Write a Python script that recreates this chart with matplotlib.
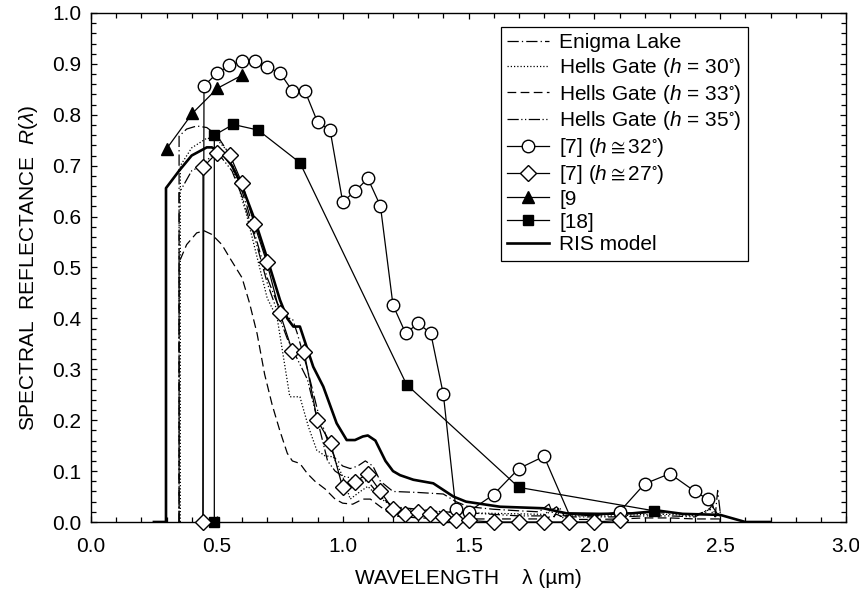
import matplotlib
matplotlib.use("Agg")
import matplotlib.pyplot as plt
from matplotlib.ticker import MultipleLocator

plt.rcParams['font.family'] = ['Liberation Sans', 'DejaVu Sans']
plt.rcParams['mathtext.fontset'] = 'custom'
plt.rcParams['mathtext.rm'] = 'Liberation Sans'
plt.rcParams['mathtext.it'] = 'Liberation Sans:italic'
plt.rcParams['mathtext.fallback'] = 'stixsans'

# ---------------- data ----------------
enigma_x = [0.35, 0.35, 0.38, 0.42, 0.46, 0.50, 0.54, 0.58, 0.62, 0.66, 0.70, 0.74, 0.78, 0.80,
            0.82, 0.86, 0.90, 0.94, 0.97, 1.00, 1.03, 1.06, 1.09, 1.12, 1.15, 1.20, 1.30, 1.40,
            1.45, 1.50, 1.60, 1.70, 1.78, 1.82, 1.84, 1.86, 1.88, 1.92, 2.00, 2.10, 2.20, 2.30,
            2.40, 2.45, 2.47, 2.48, 2.49, 2.50, 2.50]
enigma_y = [0.0, 0.758, 0.772, 0.778, 0.775, 0.76, 0.73, 0.68, 0.62, 0.55, 0.48, 0.43, 0.40, 0.40,
            0.37, 0.30, 0.22, 0.16, 0.125, 0.11, 0.105, 0.11, 0.12, 0.11, 0.08, 0.06, 0.058, 0.055,
            0.04, 0.03, 0.025, 0.022, 0.02, 0.035, 0.01, 0.03, 0.012, 0.015, 0.015, 0.015, 0.018, 0.018,
            0.015, 0.02, 0.035, 0.01, 0.062, 0.02, 0.0]

hg30_x = [0.355, 0.355, 0.40, 0.46, 0.50, 0.54, 0.58, 0.62, 0.66, 0.70, 0.74, 0.79, 0.83, 0.864,
          0.897, 0.93, 0.963, 1.00, 1.03, 1.07, 1.10, 1.14, 1.20, 1.30, 1.40, 1.50, 1.60, 1.70,
          1.80, 1.84, 1.87, 1.90, 2.00, 2.10, 2.20, 2.30, 2.40, 2.46, 2.48, 2.50, 2.50]
hg30_y = [0.0, 0.70, 0.735, 0.754, 0.752, 0.73, 0.67, 0.60, 0.52, 0.44, 0.40, 0.246, 0.246, 0.187,
          0.141, 0.13, 0.128, 0.09, 0.045, 0.06, 0.07, 0.05, 0.03, 0.022, 0.02, 0.018, 0.017, 0.016,
          0.015, 0.028, 0.008, 0.012, 0.012, 0.012, 0.015, 0.015, 0.012, 0.025, 0.01, 0.02, 0.0]

hg33_x = [0.35, 0.35, 0.38, 0.42, 0.45, 0.48, 0.52, 0.55, 0.60, 0.63, 0.66, 0.69, 0.72, 0.75,
          0.78, 0.80, 0.83, 0.86, 0.89, 0.93, 0.97, 1.00, 1.04, 1.08, 1.11, 1.15, 1.20, 1.30,
          1.40, 1.50, 1.60, 1.70, 1.80, 1.85, 1.90, 2.00, 2.10, 2.20, 2.30, 2.40, 2.50, 2.50]
hg33_y = [0.0, 0.51, 0.545, 0.568, 0.572, 0.565, 0.545, 0.52, 0.48, 0.43, 0.37, 0.29, 0.23, 0.18,
          0.135, 0.12, 0.115, 0.095, 0.08, 0.065, 0.045, 0.037, 0.035, 0.045, 0.045, 0.03, 0.012, 0.008,
          0.007, 0.006, 0.006, 0.006, 0.006, 0.015, 0.005, 0.005, 0.006, 0.008, 0.008, 0.006, 0.006, 0.0]

hg35_x = [0.35, 0.35, 0.40, 0.44, 0.48, 0.52, 0.56, 0.60, 0.65, 0.70, 0.75, 0.78, 0.82, 0.86,
          0.90, 0.94, 0.97, 1.00, 1.05, 1.10, 1.15, 1.20, 1.30, 1.40, 1.50, 1.60, 1.70, 1.80,
          1.85, 1.88, 1.90, 2.00, 2.10, 2.20, 2.30, 2.40, 2.47, 2.49, 2.50, 2.50]
hg35_y = [0.0, 0.646, 0.69, 0.70, 0.72, 0.715, 0.69, 0.64, 0.56, 0.47, 0.40, 0.36, 0.32, 0.28,
          0.20, 0.12, 0.10, 0.09, 0.085, 0.08, 0.05, 0.03, 0.025, 0.02, 0.018, 0.015, 0.012, 0.012,
          0.03, 0.01, 0.01, 0.01, 0.01, 0.012, 0.012, 0.01, 0.03, 0.015, 0.015, 0.0]

ref7a_x = [0.445, 0.449, 0.502, 0.55, 0.60, 0.65, 0.70, 0.75, 0.80, 0.85, 0.90, 0.95, 1.00, 1.05,
           1.10, 1.15, 1.20, 1.25, 1.30, 1.35, 1.40, 1.45, 1.50, 1.60, 1.70, 1.80, 1.90, 2.00,
           2.10, 2.20, 2.30, 2.40, 2.45]
ref7a_y = [0.0, 0.857, 0.882, 0.897, 0.906, 0.906, 0.893, 0.883, 0.847, 0.847, 0.786, 0.77, 0.629, 0.65,
           0.675, 0.621, 0.426, 0.371, 0.39, 0.371, 0.251, 0.025, 0.02, 0.054, 0.105, 0.129, 0.015, 0.012,
           0.02, 0.075, 0.095, 0.06, 0.045]
ref7a_marks = [i for i in range(len(ref7a_x)) if i not in (0, 26, 27)]

ref7b_x = [0.445, 0.445, 0.50, 0.552, 0.60, 0.649, 0.698, 0.751, 0.80, 0.847, 0.899, 0.952, 1.00, 1.049,
           1.10, 1.15, 1.20, 1.248, 1.30, 1.349, 1.40, 1.45, 1.50, 1.60, 1.70, 1.80, 1.90, 2.00, 2.10]
ref7b_y = [0.0, 0.697, 0.725, 0.721, 0.666, 0.585, 0.511, 0.41, 0.336, 0.334, 0.20, 0.155, 0.068, 0.079,
           0.095, 0.06, 0.025, 0.016, 0.02, 0.016, 0.01, 0.004, 0.003, 0.0, 0.0, 0.0, 0.0, 0.0, 0.003]

ref9_x = [0.30, 0.403, 0.502, 0.601]
ref9_y = [0.733, 0.803, 0.852, 0.878]

ref18_x = [0.49, 0.49, 0.565, 0.664, 0.83, 1.254, 1.70, 2.237]
ref18_y = [0.0, 0.76, 0.781, 0.770, 0.706, 0.27, 0.068, 0.022]

ris_x = [0.25, 0.298, 0.298, 0.35, 0.40, 0.46, 0.48, 0.52, 0.56, 0.60, 0.651, 0.698, 0.751, 0.78,
         0.804, 0.83, 0.883, 0.923, 0.976, 1.016, 1.049, 1.08, 1.10, 1.13, 1.17, 1.20, 1.228, 1.281,
         1.36, 1.44, 1.49, 1.625, 1.797, 1.89, 2.02, 2.15, 2.26, 2.35, 2.50, 2.60, 2.70]
ris_y = [0.0, 0.0, 0.656, 0.69, 0.72, 0.736, 0.736, 0.725, 0.70, 0.66, 0.593, 0.521, 0.436, 0.40,
         0.384, 0.384, 0.305, 0.266, 0.194, 0.161, 0.161, 0.168, 0.17, 0.16, 0.12, 0.10, 0.092, 0.083,
         0.076, 0.05, 0.04, 0.03, 0.027, 0.017, 0.016, 0.017, 0.022, 0.016, 0.014, 0.0, 0.0]

labels = ["Enigma Lake",
          r"Hells Gate ($h$ = 30$^{\circ}$)",
          r"Hells Gate ($h$ = 33$^{\circ}$)",
          r"Hells Gate ($h$ = 35$^{\circ}$)",
          r"[7] ($h \cong 32^{\circ}$)",
          r"[7] ($h \cong 27^{\circ}$)",
          "[9",
          "[18]",
          "RIS model"]

# ---------------- figure ----------------
fig = plt.figure(figsize=(8.59, 5.97), dpi=100)
ax = fig.add_axes([91/859, 1-522/597, (846-91)/859, (522-13)/597])

lw = 0.9
ax.plot(enigma_x, enigma_y, color='k', lw=lw, ls=(0, (9, 2.5, 1, 2.5)), label=labels[0])
ax.plot(hg30_x, hg30_y, color='k', lw=lw, ls=(0, (1, 1.6)), label=labels[1])
ax.plot(hg33_x, hg33_y, color='k', lw=lw, ls=(0, (7, 3.5)), label=labels[2])
ax.plot(hg35_x, hg35_y, color='k', lw=lw, ls=(0, (9, 2, 1, 2, 1, 2)), label=labels[3])
ax.plot(ref7a_x, ref7a_y, color='k', lw=lw, marker='o', ms=9, mfc='white', mec='k', mew=1.0,
        markevery=ref7a_marks, label=labels[4], clip_on=False, zorder=4)
ax.plot(ref7b_x, ref7b_y, color='k', lw=lw, marker='D', ms=8, mfc='white', mec='k', mew=1.0,
        label=labels[5], clip_on=False, zorder=5)
ax.plot(ref9_x, ref9_y, color='k', lw=lw, marker='^', ms=8.5, mfc='k', mec='k',
        label=labels[6], zorder=4)
ax.plot(ref18_x, ref18_y, color='k', lw=lw, marker='s', ms=7.5, mfc='k', mec='k',
        label=labels[7], clip_on=False, zorder=4)
ax.plot(ris_x, ris_y, color='k', lw=1.9, label=labels[8], zorder=3)

ax.set_xlim(0, 3.0)
ax.set_ylim(0, 1.0)
ax.xaxis.set_major_locator(MultipleLocator(0.5))
ax.xaxis.set_minor_locator(MultipleLocator(0.1))
ax.yaxis.set_major_locator(MultipleLocator(0.1))
ax.yaxis.set_minor_locator(MultipleLocator(0.02))
ax.xaxis.set_major_formatter(plt.FormatStrFormatter('%.1f'))
ax.yaxis.set_major_formatter(plt.FormatStrFormatter('%.1f'))
ax.tick_params(which='both', direction='in', top=True, right=True, width=0.9)
ax.tick_params(which='major', length=4.5, labelsize=15)
ax.tick_params(axis='x', which='major', pad=11)
ax.tick_params(axis='y', which='major', pad=7)
ax.tick_params(which='minor', length=3.5)
for s in ax.spines.values():
    s.set_linewidth(1.0)

ax.set_xlabel(r"WAVELENGTH    λ (µm)", fontsize=15, labelpad=9)
ax.set_ylabel(r"SPECTRAL  REFLECTANCE  $R(\lambda)$", fontsize=15, labelpad=9)

leg = ax.legend(loc='upper left', bbox_to_anchor=(501/859, 1-27/597), bbox_transform=fig.transFigure,
                fontsize=15, frameon=True, fancybox=False, edgecolor='k', framealpha=1,
                handlelength=2.0, handletextpad=0.5, labelspacing=0.18, borderpad=0.3,
                borderaxespad=0)
leg.get_frame().set_linewidth(0.9)

fig.savefig("out.png", dpi=100)
